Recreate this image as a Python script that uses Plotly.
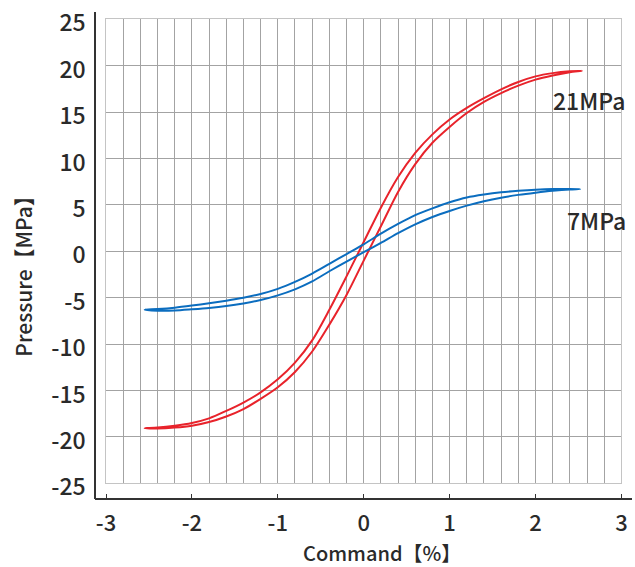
import plotly.graph_objects as go

# ---- data ----
command = [-2.55, -2.4, -2.2, -2.0, -1.8, -1.6, -1.4, -1.2, -1.0, -0.8, -0.6, -0.4, -0.2,
           0.0, 0.2, 0.4, 0.6, 0.8, 1.0, 1.2, 1.4, 1.6, 1.8, 2.0, 2.2, 2.4]
end_21 = 2.54
end_7 = 2.52

p21_rising = [-19.07, -19.1, -19.0, -18.8, -18.4, -17.8, -17.0, -15.9, -14.65, -13.0, -10.8, -7.9, -4.7,
              -1.0, 2.7, 6.4, 9.4, 11.7, 13.4, 14.9, 16.1, 17.05, 17.85, 18.5, 18.95, 19.3]
p21_falling = [-19.07, -19.0, -18.8, -18.5, -18.0, -17.2, -16.3, -15.2, -13.8, -12.0, -9.6, -6.3, -2.7,
               1.0, 4.7, 8.0, 10.6, 12.6, 14.2, 15.45, 16.5, 17.45, 18.25, 18.85, 19.2, 19.4]
p21_end = 19.45

p7_rising = [-6.3, -6.4, -6.38, -6.25, -6.1, -5.9, -5.62, -5.25, -4.75, -4.1, -3.25, -2.15, -1.1,
             -0.1, 0.9, 1.95, 2.9, 3.7, 4.35, 4.92, 5.4, 5.78, 6.08, 6.32, 6.52, 6.66]
p7_falling = [-6.3, -6.22, -6.07, -5.85, -5.6, -5.32, -5.0, -4.6, -4.05, -3.3, -2.4, -1.35, -0.3,
              0.75, 1.9, 2.95, 3.9, 4.63, 5.28, 5.8, 6.12, 6.36, 6.52, 6.64, 6.71, 6.72]
p7_end = 6.7

series_labels = ["21MPa", "7MPa"]
x_title = "Command【%】"
y_title = "Pressure【MPa】"
x_ticks = [-3, -2, -1, 0, 1, 2, 3]
y_ticks = [-25, -20, -15, -10, -5, 0, 5, 10, 15, 20, 25]

# ---- layout helpers (pixels -> paper) ----
W, H = 635, 567
def fx(p):
    return p / W
def fy(p):
    return 1 - p / H

GX0, GX1 = 106.0, 621.4     # grid left/right in px
GY0, GY1 = 19.3, 483.3      # grid top/bottom in px
AX_X = 95.0                 # black y-axis line
AX_Y = 499.0                # black x-axis line
LBL_DROP = 4.0              # y tick labels sit slightly below their grid lines
sx = 6.0 / (GX1 - GX0)
sy = 50.0 / (GY1 - GY0)

RED = "#e8232b"
BLUE = "#0b6dbf"
TXT = "#2a2a2a"
FONT = "Noto Sans CJK JP"
WEIGHT = 500

def loop(xs, rising, falling, xe, ye):
    x = list(xs) + [xe] + list(reversed(xs))
    y = list(rising) + [ye] + list(reversed(falling))
    return x, y

fig = go.Figure()
# carrier trace for the offset black axes (drawn first, underneath)
fig.add_trace(go.Scatter(x=[], y=[], xaxis="x2", yaxis="y2", showlegend=False, hoverinfo="skip"))
x21, y21 = loop(command, p21_rising, p21_falling, end_21, p21_end)
x7, y7 = loop(command, p7_rising, p7_falling, end_7, p7_end)
fig.add_trace(go.Scatter(x=x21, y=y21, mode="lines", line=dict(color=RED, width=2, shape="spline", smoothing=0.8),
                         name=series_labels[0], showlegend=False))
fig.add_trace(go.Scatter(x=x7, y=y7, mode="lines", line=dict(color=BLUE, width=2, shape="spline", smoothing=0.8),
                         name=series_labels[1], showlegend=False))

ytick_font = dict(size=23, color=TXT, family=FONT, weight=WEIGHT)
xtick_font = dict(size=22, color=TXT, family=FONT, weight=WEIGHT)

fig.update_layout(
    width=W, height=H, autosize=False,
    margin=dict(l=0, r=0, t=0, b=0, pad=0, autoexpand=False),
    paper_bgcolor="white", plot_bgcolor="rgba(0,0,0,0)",
    font=dict(family=FONT, color=TXT),
    xaxis=dict(domain=[fx(GX0), fx(GX1)], range=[-3, 3], tick0=-3, dtick=0.2,
               showgrid=True, gridcolor="#a3a3a3", gridwidth=1, zeroline=False,
               showticklabels=False, ticks="", showline=True, mirror=True,
               linecolor="#c4c4c4", linewidth=1, anchor="y", automargin=False),
    yaxis=dict(domain=[fy(GY1), fy(GY0)], range=[-25, 25], tick0=-25, dtick=5,
               showgrid=True, gridcolor="#a3a3a3", gridwidth=1, zeroline=False,
               showticklabels=False, ticks="", showline=True, mirror=True,
               linecolor="#c4c4c4", linewidth=1, anchor="x", automargin=False),
    xaxis2=dict(domain=[fx(AX_X), fx(632)],
                range=[-3 + (AX_X - GX0) * sx, 3 + (632 - GX1) * sx],
                anchor="free", position=fy(AX_Y), showgrid=False, zeroline=False,
                showline=True, linecolor="#333333", linewidth=1.5,
                tickmode="array", tickvals=x_ticks, ticktext=[str(v) for v in x_ticks],
                ticks="inside", ticklen=4, tickcolor="#333333", tickwidth=1,
                tickfont=xtick_font, ticklabelstandoff=5, automargin=False),
    yaxis2=dict(domain=[fy(AX_Y), fy(11.7)],
                range=[-25 - (AX_Y - GY1 - LBL_DROP) * sy, 25 + (GY0 - 11.7 + LBL_DROP) * sy],
                anchor="free", position=fx(AX_X), showgrid=False, zeroline=False,
                showline=True, linecolor="#333333", linewidth=1.5,
                tickmode="array", tickvals=y_ticks, ticktext=[str(v) for v in y_ticks],
                ticks="", tickfont=ytick_font, ticklabelstandoff=4, automargin=False),
    annotations=[
        dict(text=series_labels[0], x=fx(588.5), y=fy(100.5), xref="paper", yref="paper",
             showarrow=False, font=dict(size=23, color=TXT, family=FONT, weight=WEIGHT),
             xanchor="center", yanchor="middle"),
        dict(text=series_labels[1], x=fx(596.5), y=fy(220), xref="paper", yref="paper",
             showarrow=False, font=dict(size=23, color=TXT, family=FONT, weight=WEIGHT),
             xanchor="center", yanchor="middle"),
        dict(text=x_title, x=fx(381.5), y=fy(552.5), xref="paper", yref="paper",
             showarrow=False, font=dict(size=20, color=TXT, family=FONT, weight=WEIGHT),
             xanchor="center", yanchor="middle"),
        dict(text=y_title, x=fx(22.7), y=fy(271), xref="paper", yref="paper", textangle=-90,
             showarrow=False, font=dict(size=21, color=TXT, family=FONT, weight=WEIGHT),
             xanchor="center", yanchor="middle"),
    ],
)

fig.write_html("out.html", config={"displayModeBar": False},
               post_script="document.body.style.margin='0px';")
